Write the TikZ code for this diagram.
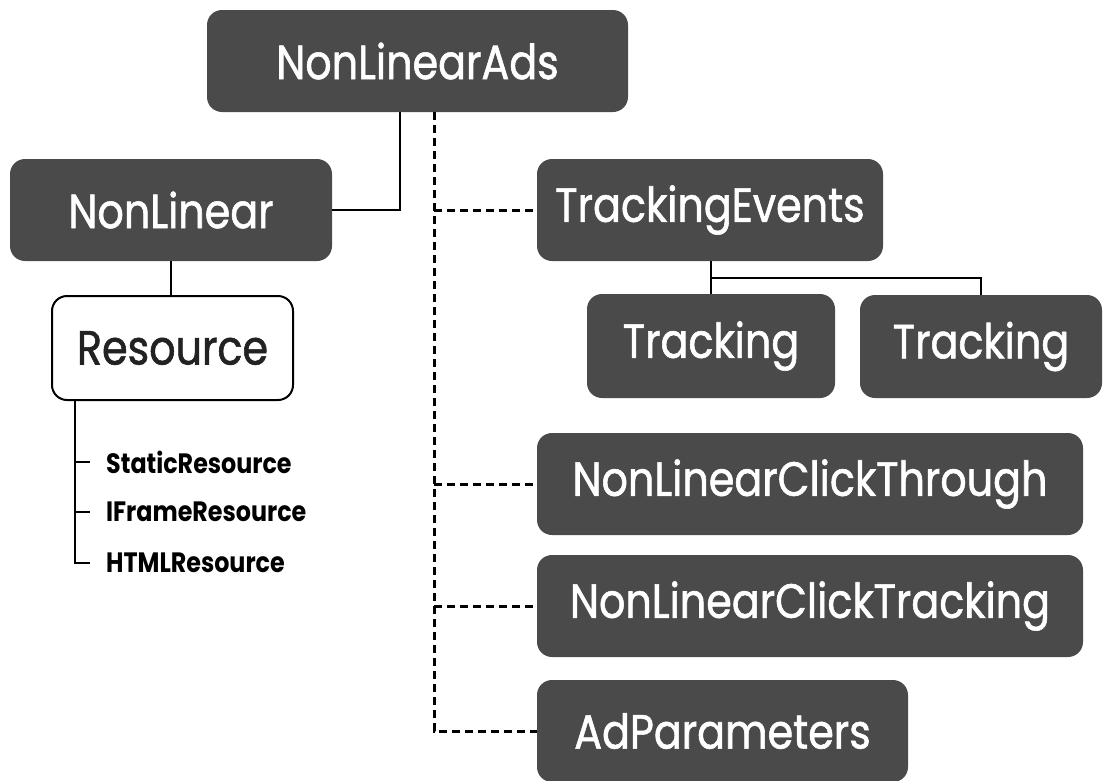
\documentclass[tikz,border=0pt]{standalone}
\usepackage{fontspec}
\setmainfont{Poppins}[FakeStretch=0.86,FakeBold=1.2]
\newfontfamily\lblfont{Poppins}[FakeStretch=0.85]
\definecolor{boxgray}{RGB}{74,74,74}
\definecolor{txtdark}{RGB}{34,34,34}
\tikzset{
  darkbox/.style={draw=none, fill=boxgray, rounded corners=15pt, text=white, font=\fontsize{48}{52}\selectfont, inner sep=0pt},
  lightbox/.style={draw=black, line width=2pt, fill=white, rounded corners=15pt, text=txtdark, font=\fontsize{48}{52}\selectfont, inner sep=0pt},
  link/.style={draw=black, line width=2pt},
  dlink/.style={draw=black, line width=3pt, dash pattern=on 8pt off 5pt},
  reslabel/.style={anchor=west, inner sep=0pt, text=black, font=\lblfont\bfseries\fontsize{28}{30}\selectfont}
}
\begin{document}
\begin{tikzpicture}[x=1pt,y=-1pt]
\useasboundingbox[fill=white] (0,0) rectangle (1105,780);
% boxes
\node[darkbox, minimum width=421pt, minimum height=102pt] (ads) at (417.5,61) {NonLinearAds};
\node[darkbox, minimum width=322pt, minimum height=102pt] (nl) at (171,210) {NonLinear};
\node[lightbox, minimum width=241pt, minimum height=104pt] (res) at (172.5,348) {Resource};
\node[darkbox, minimum width=346pt, minimum height=102pt] (te) at (710,210) {TrackingEvents};
\node[darkbox, minimum width=248pt, minimum height=104pt] (tr1) at (711,346) {Tracking};
\node[darkbox, minimum width=242pt, minimum height=103pt] (tr2) at (981,346.5) {Tracking};
\node[darkbox, minimum width=546pt, minimum height=102pt] (nlct) at (810,484) {NonLinearClickThrough};
\node[darkbox, minimum width=546pt, minimum height=102pt] (nlctr) at (810,606) {NonLinearClickTracking};
\node[darkbox, minimum width=371pt, minimum height=102pt] (adp) at (722.5,731) {AdParameters};
% resource labels
\node[reslabel] (sr) at (106,462) {StaticResource};
\node[reslabel] (ifr) at (106,512) {IFrameResource};
\node[reslabel] (hr) at (106,563) {HTMLResource};
% helper coordinates
\coordinate (solidx) at (400,0);
\coordinate (spine) at (434,0);
\coordinate (resx) at (75,0);
\coordinate (trbar) at (0,278);
% solid links
\draw[link] (ads.south -| solidx) |- (nl.east);
\draw[link] (nl.south) -- (nl.south |- res.north);
\draw[link] (te.south -| tr1.north) -- (tr1.north);
\draw[link] (tr1.north |- trbar) -| (tr2.north);
% resource list
\draw[link] (res.south -| resx) |- ([xshift=-16pt]hr.west);
\draw[link] (resx |- sr.west) -- ([xshift=-16pt]sr.west);
\draw[link] (resx |- ifr.west) -- ([xshift=-16pt]ifr.west);
% dashed links
\draw[dlink] (ads.south -| spine) |- (adp.west);
\draw[dlink] (spine |- te.west) -- (te.west);
\draw[dlink] (spine |- nlct.west) -- (nlct.west);
\draw[dlink] (spine |- nlctr.west) -- (nlctr.west);
\end{tikzpicture}
\end{document}
